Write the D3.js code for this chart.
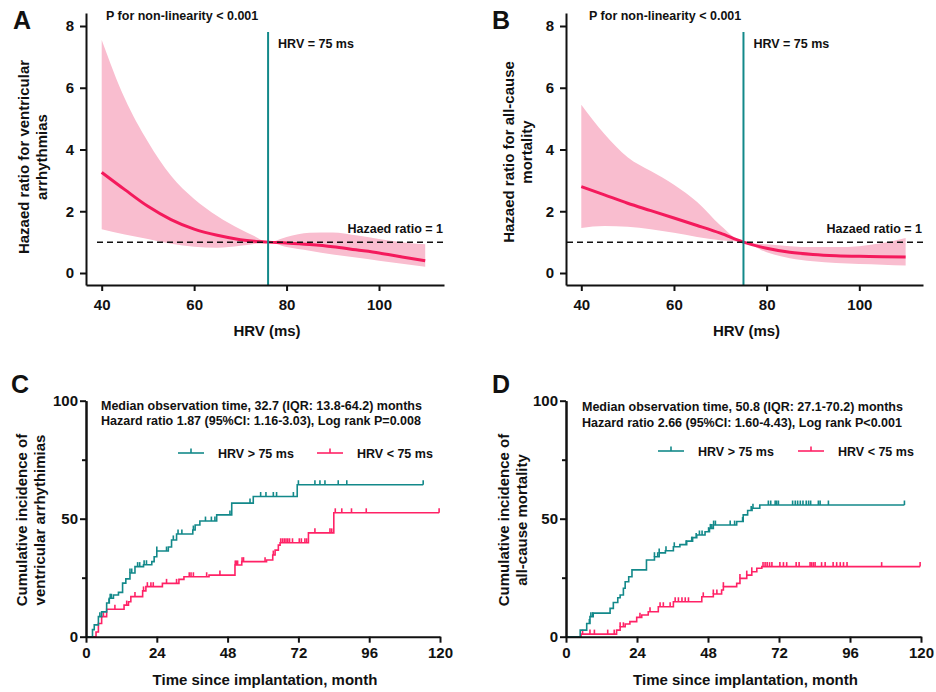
<!DOCTYPE html>
<html>
<head>
<meta charset="utf-8">
<script src="https://cdn.jsdelivr.net/npm/d3@7"></script>
<style>
body{margin:0;background:#fff}
text{font-family:"Liberation Sans",Arial,sans-serif;font-weight:bold;fill:#111}
</style>
</head>
<body>
<svg width="936" height="692"></svg>
<script>
// restricted cubic spline panels (A, B)
var hrvA = [40,45,50,55,60,65,70,73,76,80,85,90,95,100,105,110];
var hrA  = [3.26,2.70,2.16,1.73,1.42,1.22,1.08,1.03,1.0,0.97,0.92,0.85,0.75,0.65,0.52,0.40];
var upA  = [7.55,5.65,4.25,3.15,2.40,1.85,1.42,1.20,1.0,1.17,1.30,1.31,1.22,1.10,1.00,0.93];
var loA  = [1.42,1.25,1.10,0.95,0.85,0.82,0.88,0.94,1.0,0.84,0.72,0.60,0.50,0.40,0.30,0.20];

var hrvB = [40,45,50,55,60,65,70,75,80,85,90,95,100,105,110];
var hrB  = [2.80,2.53,2.26,2.02,1.78,1.54,1.29,1.0,0.80,0.67,0.60,0.56,0.54,0.53,0.52];
var upB  = [5.45,4.50,3.75,3.30,2.86,2.30,1.55,1.0,0.93,0.87,0.84,0.84,0.87,0.97,1.13];
var loB  = [1.46,1.52,1.50,1.42,1.30,1.17,1.06,1.0,0.67,0.48,0.38,0.32,0.29,0.27,0.24];

var hrTicks = [0,2,4,6,8];
var hrvTicks = [40,60,80,100];

// Kaplan-Meier steps [month, %] (C, D)
var kmC_hi = [[0,0],[2.2,3],[2.8,5],[4.2,8.5],[5.3,10.5],[7.0,14.3],[7.9,16.3],[9.3,17.7],[11.0,18.8],[12.4,22.7],[13.5,24.5],[14.9,27],[16.6,29.7],[19.5,30.5],[22.3,31.8],[23.1,33.9],[24,36.3],[27.9,38],[29,41],[30.7,43.5],[36.2,45.2],[37,47.3],[38.6,49],[44.3,51.6],[49.4,56.6],[56.7,59.4],[71.6,64.4],[114.3,64.4]];
var kmC_lo = [[0,0],[3.4,2],[4.2,5.6],[5.3,8.5],[7,11.6],[12.9,13.4],[14.4,14.8],[15.2,17],[19.2,19.4],[20.3,21.2],[25.9,22.6],[31.5,24.3],[33.2,25.4],[41.7,26.1],[50.5,30.4],[52.8,31.8],[61.2,32.5],[63.3,34.6],[64.1,36.7],[65.2,38.8],[65.8,39.8],[75.4,44],[84,52.5],[119.7,52.5]];
var cenC_hi = [4.7,7.8,8.2,8.6,14.9,15.5,17.5,18.2,19.7,20.5,24,27.3,29.6,31.2,32.5,36.4,40.5,42.5,43.7,48.8,55.6,59.2,61,63.5,64.6,70.3,72,77.6,79.3,81,85.5,88.4,114.3];
var cenC_lo = [5.9,9.8,13.8,16.6,19.5,20.8,22,22.8,27.3,30.7,35,35.6,36.4,40.9,45.4,50.6,51,51.4,52.9,53.4,60.7,63.5,66,66.6,67.2,67.8,68.4,69,70,72.3,73,74.2,74.8,77.6,82.7,83.3,84.5,86.7,90,95,119.7];

var kmD_hi = [[0,0],[4.8,2.8],[7,5.6],[8.1,8.5],[9.2,10],[14.9,12],[16,14.5],[17.5,16.5],[18.3,17.7],[19.4,20.5],[20,23.3],[21.2,25.4],[22.3,28.3],[27.2,32.5],[29.9,33.9],[31.5,35.5],[33.6,36.4],[36.3,38.1],[38.5,39],[40.8,40.5],[42.8,42],[44.2,43.1],[47,44.5],[48.5,45.9],[49.8,47.3],[57.7,48.8],[59.9,51.6],[61.4,53.5],[62.9,54.4],[65.5,55.8],[114.4,55.8]];
var kmD_lo = [[0,0],[5.1,1.1],[17.1,2.8],[18.3,4.2],[20,5.4],[21.6,6.4],[23.9,8.2],[25.6,9.2],[27.8,10.6],[31.2,12.7],[36.3,14.8],[45.9,16.9],[49.8,18.1],[52.6,19.8],[53.2,21.2],[57.7,22.6],[58.8,24.7],[61.1,26.1],[62.8,27.5],[64.5,29],[66.2,29.7],[119.7,29.7]];
var cenD_hi = [7.9,8.4,9,29.9,31,31.5,33.8,36.6,40.6,42.5,44,45.1,46,48.2,48.8,49.3,49.9,50.5,55.5,57,59.7,62.6,63.2,68.4,69.2,70.7,71.2,71.8,76.6,77.5,78.3,79.2,80.1,81.2,82,82.7,85.3,85.9,88.7,114.4];
var cenD_lo = [5.6,8.1,9.6,14.1,16.3,18.3,19.4,25,28.4,31.8,32.9,35.2,36.9,38,39.2,40.3,41.4,46.4,49.8,51,53.2,58.8,61.1,62.8,66.6,67.3,68,68.8,69.6,72.3,73.5,74.6,77.8,78.8,82.5,83,83.6,84.2,86.4,87.6,90.3,91.5,92.7,93.8,95,106.7,119.7];

var pctTicks = [0,50,100];
var pctMinor = [25,75];
var monthTicks = [0,24,48,72,96,120];

var teal = "#13898a", pink = "#f41a5c", bandCol = "#f9bdcf", kmPink = "#ff2266";
var svg = d3.select("svg");

function styleAxis(g, fs){
  g.selectAll("path,line").attr("stroke","#111").attr("stroke-width",2);
  g.selectAll("text").attr("font-size",fs).attr("fill","#111")
    .attr("font-family",'"Liberation Sans",Arial,sans-serif').attr("font-weight","bold");
}

function splinePanel(p){
  var g = svg.append("g");
  var x = d3.scaleLinear().domain([40,100]).range([p.x40,p.x100]);
  x.domain([x.invert(p.axL), x.invert(p.axR)]).range([p.axL,p.axR]);
  var y = d3.scaleLinear().domain([0,8]).range([273,26]);
  y.domain([y.invert(285), y.invert(13)]).range([285,13]);
  var idx = d3.range(p.hrv.length);

  g.append("path").datum(idx)
    .attr("d", d3.area().x(function(i){return x(p.hrv[i]);})
      .y0(function(i){return y(p.lo[i]);}).y1(function(i){return y(p.up[i]);})
      .curve(d3.curveMonotoneX))
    .attr("fill", bandCol);
  g.append("path").datum(idx)
    .attr("d", d3.line().x(function(i){return x(p.hrv[i]);}).y(function(i){return y(p.hr[i]);})
      .curve(d3.curveMonotoneX))
    .attr("fill","none").attr("stroke",pink).attr("stroke-width",3);

  g.append("line").attr("x1",p.dashL).attr("x2",p.axR).attr("y1",y(1)).attr("y2",y(1))
    .attr("stroke","#111").attr("stroke-width",1.5).attr("stroke-dasharray","6,4");
  g.append("line").attr("x1",x(p.cut)).attr("x2",x(p.cut)).attr("y1",32).attr("y2",285)
    .attr("stroke",teal).attr("stroke-width",2);

  var ya = g.append("g").attr("transform","translate("+p.axL+",0)")
    .call(d3.axisLeft(y).tickValues(hrTicks).tickSize(6).tickPadding(6).tickSizeOuter(0));
  styleAxis(ya,15);
  var xa = g.append("g").attr("transform","translate(0,285)")
    .call(d3.axisBottom(x).tickValues(hrvTicks).tickSize(6).tickPadding(8).tickSizeOuter(0));
  styleAxis(xa,15);

  g.append("text").attr("x",p.letterX).attr("y",29).attr("font-size",25).text(p.letter);
  g.append("text").attr("x",p.pX).attr("y",20).attr("font-size",12.5).text("P for non-linearity < 0.001");
  g.append("text").attr("x",x(p.cut)+10).attr("y",48).attr("font-size",12.5).text("HRV = 75 ms");
  g.append("text").attr("x",p.axR-1).attr("y",232.5).attr("text-anchor","end").attr("font-size",12.5).text("Hazaed ratio = 1");
  g.append("text").attr("x",(p.axL+p.axR)/2+2).attr("y",336).attr("text-anchor","middle").attr("font-size",15).text("HRV (ms)");
  p.yTitle.forEach(function(t,k){
    g.append("text").attr("transform","translate("+(p.titleX+k*18)+","+p.titleY+") rotate(-90)")
      .attr("text-anchor","middle").attr("font-size",15).text(t);
  });
}

function stepAt(data,t){
  var i = d3.bisector(function(d){return d[0];}).right(data,t)-1;
  return data[Math.max(i,0)][1];
}

function kmPanel(p){
  var g = svg.append("g");
  var x = d3.scaleLinear().domain([0,120]).range([p.axL,p.axR]);
  var y = d3.scaleLinear().domain([0,100]).range([636.7,400.7]);
  var line = d3.line().x(function(d){return x(d[0]);}).y(function(d){return y(d[1]);}).curve(d3.curveStepAfter);

  [[p.lo,p.cenLo,kmPink],[p.hi,p.cenHi,teal]].forEach(function(s){
    g.append("path").datum(s[0]).attr("d",line).attr("fill","none").attr("stroke",s[2]).attr("stroke-width",1.6);
    g.selectAll(null).data(s[1]).enter().append("line")
      .attr("x1",function(t){return x(t);}).attr("x2",function(t){return x(t);})
      .attr("y1",function(t){return y(stepAt(s[0],t));})
      .attr("y2",function(t){return y(stepAt(s[0],t))-4.5;})
      .attr("stroke",s[2]).attr("stroke-width",1.6);
  });

  var ya = g.append("g").attr("transform","translate("+p.axL+",0)")
    .call(d3.axisLeft(y).tickValues(pctTicks).tickSize(6).tickPadding(2).tickSizeOuter(0));
  styleAxis(ya,15);
  var ym = g.append("g").attr("transform","translate("+p.axL+",0)")
    .call(d3.axisLeft(y).tickValues(pctMinor).tickSize(4).tickFormat("").tickSizeOuter(0));
  styleAxis(ym,15);
  var xa = g.append("g").attr("transform","translate(0,636.7)")
    .call(d3.axisBottom(x).tickValues(monthTicks).tickSize(6).tickPadding(5).tickSizeOuter(0));
  styleAxis(xa,15);

  g.append("text").attr("x",p.letterX).attr("y",393).attr("font-size",25).text(p.letter);
  p.note.forEach(function(t,k){
    g.append("text").attr("x",p.noteX).attr("y",p.noteY[k]).attr("font-size",12.5).text(t);
  });
  var legs = [[teal,"HRV > 75 ms",p.legX[0]],[kmPink,"HRV < 75 ms",p.legX[1]]];
  legs.forEach(function(l){
    g.append("line").attr("x1",l[2]).attr("x2",l[2]+26).attr("y1",p.legY).attr("y2",p.legY)
      .attr("stroke",l[0]).attr("stroke-width",1.6);
    g.append("line").attr("x1",l[2]+13).attr("x2",l[2]+13).attr("y1",p.legY).attr("y2",p.legY-4.5)
      .attr("stroke",l[0]).attr("stroke-width",1.6);
    g.append("text").attr("x",l[2]+40).attr("y",p.legY+4.5).attr("font-size",12.5).text(l[1]);
  });
  g.append("text").attr("x",(p.axL+p.axR)/2+2).attr("y",685).attr("text-anchor","middle").attr("font-size",15)
    .text("Time since implantation, month");
  p.yTitle.forEach(function(t,k){
    g.append("text").attr("transform","translate("+(p.titleX+k*18)+",520) rotate(-90)")
      .attr("text-anchor","middle").attr("font-size",15).text(t);
  });
}

splinePanel({letter:"A",letterX:13,axL:86,axR:444,x40:101.7,x100:379,hrv:hrvA,hr:hrA,up:upA,lo:loA,cut:76,dashL:97,
  pX:106,titleX:29,titleY:157,yTitle:["Hazaed ratio for ventricular","arrhythmias"]});
splinePanel({letter:"B",letterX:492,axL:566,axR:923,x40:581.3,x100:859.3,hrv:hrvB,hr:hrB,up:upB,lo:loB,cut:75,dashL:567,
  pX:589,titleX:514,titleY:152,yTitle:["Hazaed ratio for all-cause","mortality"]});

kmPanel({letter:"C",letterX:11,axL:86,axR:440,hi:kmC_hi,lo:kmC_lo,cenHi:cenC_hi,cenLo:cenC_lo,
  noteX:101,noteY:[409.5,424.5],note:["Median observation time, 32.7 (IQR: 13.8-64.2) months","Hazard ratio 1.87 (95%CI: 1.16-3.03), Log rank P=0.008"],
  legX:[178,317],legY:453,titleX:27,yTitle:["Cumulative incidence of","ventricular arrhythimias"]});
kmPanel({letter:"D",letterX:492,axL:566,axR:921,hi:kmD_hi,lo:kmD_lo,cenHi:cenD_hi,cenLo:cenD_lo,
  noteX:582,noteY:[411,427],note:["Median observation time, 50.8 (IQR: 27.1-70.2) months","Hazard ratio 2.66 (95%CI: 1.60-4.43), Log rank P<0.001"],
  legX:[658,798],legY:451,titleX:509,yTitle:["Cumulative incidence of","all-cause mortality"]});
</script>
</body>
</html>
